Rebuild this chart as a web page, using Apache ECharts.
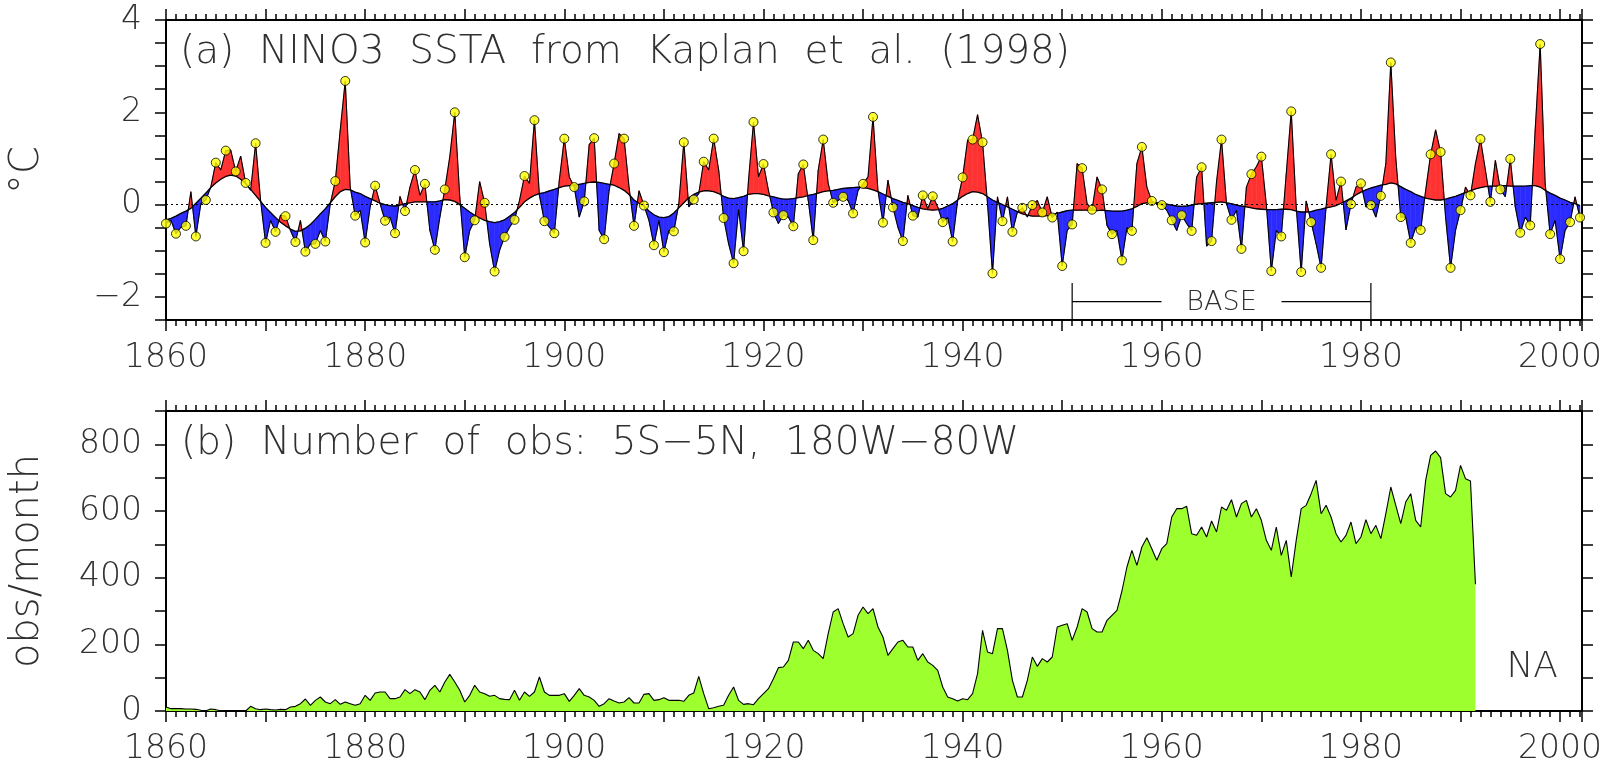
<!DOCTYPE html>
<html>
<head>
<meta charset="utf-8">
<title>NINO3 SSTA and number of obs</title>
<script src="https://cdn.jsdelivr.net/npm/echarts@6/dist/echarts.min.js"></script>
<style>
  html, body { margin: 0; padding: 0; background: #fff; }
  #main { width: 1610px; height: 773px; }
</style>
</head>
<body>
<div id="main"></div>
<script>
// ---- data (half-year steps) ----
// SSTA sample times: every half year from 1860.0 to 2002.0
var sstaStart = 1860, sstaStep = 0.5;
// NINO3 SST anomaly (degC), Jan / Jul of each year
var ssta = [
  -0.41,-0.34, -0.63,-0.49, -0.46,0.28, -0.69,0.02, 0.10,0.38,
  0.91,0.75, 1.17,1.18, 0.72,1.05, 0.47,0.31, 1.33,0.09,
  -0.83,-0.34, -0.59,-0.23, -0.25,-0.56, -0.81,-0.34, -1.02,-0.85,
  -0.85,-0.56, -0.80,0.02, 0.51,1.62, 2.68,0.38, -0.24,-0.12,
  -0.82,-0.05, 0.41,0.02, -0.35,-0.27, -0.62,0.18, -0.14,0.38,
  0.75,0.20, 0.45,-0.56, -0.98,-0.27, 0.33,1.04, 2.00,0.17,
  -1.14,-0.56, -0.34,0.50, 0.04,-0.85, -1.45,-0.99, -0.70,-0.49,
  -0.33,0.09, 0.62,0.46, 1.83,0.20, -0.36,-0.49, -0.62,0.53,
  1.43,0.60, 0.38,-0.27, 0.07,1.30, 1.44,-0.56, -0.75,0.31,
  0.89,1.54, 1.43,0.38, -0.46,0.30, -0.02,-0.34, -0.88,-0.34,
  -1.03,-0.56, -0.58,0.02, 1.35,-0.05, 0.11,0.24, 0.93,0.75,
  1.43,0.75, -0.29,-0.85, -1.27,-0.10, -1.01,0.53, 1.79,0.60,
  0.88,0.31, -0.17,-0.41, -0.23,-0.27, -0.47,0.67, 0.87,0.09,
  -0.77,0.75, 1.41,0.46, 0.04,0.09, 0.17,0.09, -0.19,0.31,
  0.45,0.60, 1.90,0.30, -0.39,0.53, -0.06,-0.49, -0.79,0.20,
  -0.24,-0.27, 0.20,-0.09, 0.18,-0.05, -0.38,-0.27, -0.80,0.09,
  0.59,1.40, 1.41,1.95, 1.35,0.02, -1.49,0.17, -0.36,0.17,
  -0.59,-0.16, -0.07,-0.27, -0.01,0.09, -0.17,0.17, -0.28,-0.16,
  -1.33,-0.56, -0.43,0.89, 0.79,0.02, -0.11,0.60, 0.33,-0.45,
  -0.64,-0.56, -1.21,-0.50, -0.57,0.89, 1.25,0.38, 0.08,0.02,
  -0.01,-0.12, -0.34,-0.56, -0.23,-0.41, -0.57,0.60, 0.81,-0.90,
  -0.79,0.50, 1.41,0.02, -0.33,-0.12, -0.96,0.38, 0.66,0.82,
  1.04,0.00, -1.44,-0.56, -0.69,0.67, 2.02,-0.05, -1.46,0.08,
  -0.38,-0.85, -1.37,-0.05, 1.09,0.09, 0.50,-0.55, 0.01,0.38,
  0.46,-0.05, -0.01,-0.27, 0.19,0.89, 3.08,1.00, -0.27,-0.27,
  -0.83,-0.49, -0.55,0.31, 1.09,1.62, 1.14,-0.27, -1.37,-0.56,
  -0.12,0.38, 0.20,0.89, 1.42,0.75, 0.06,0.96, 0.33,0.17,
  0.99,-0.05, -0.61,-0.27, -0.45,1.62, 3.48,0.46, -0.64,-0.34,
  -1.18,-0.56, -0.38,0.17, -0.28
];
// low-pass (decadal) part of the same series
var lowpass = [
  -0.33,-0.30, -0.25,-0.19, -0.14,-0.08, 0.03,0.14, 0.25,0.37,
  0.47,0.55, 0.61,0.64, 0.62,0.55, 0.45,0.33, 0.20,0.07,
  -0.06,-0.17, -0.28,-0.38, -0.46,-0.53, -0.58,-0.57, -0.51,-0.43,
  -0.32,-0.20, -0.09,0.04, 0.17,0.28, 0.33,0.32, 0.27,0.24,
  0.18,0.13, 0.08,0.03, 0.00,-0.02, -0.03,-0.01, 0.02,0.04,
  0.06,0.06, 0.06,0.06, 0.06,0.08, 0.11,0.10, 0.07,0.00,
  -0.08,-0.16, -0.23,-0.29, -0.34,-0.37, -0.39,-0.37, -0.33,-0.25,
  -0.17,-0.06, 0.06,0.14, 0.20,0.24, 0.26,0.30, 0.33,0.37,
  0.40,0.41, 0.42,0.44, 0.46,0.48, 0.49,0.48, 0.46,0.44,
  0.42,0.37, 0.31,0.22, 0.10,0.03, -0.03,-0.14, -0.22,-0.27,
  -0.28,-0.26, -0.18,-0.07, 0.04,0.15, 0.22,0.27, 0.30,0.30,
  0.28,0.24, 0.18,0.14, 0.13,0.15, 0.18,0.22, 0.24,0.24,
  0.22,0.19, 0.17,0.14, 0.12,0.12, 0.13,0.15, 0.17,0.20,
  0.22,0.25, 0.28,0.30, 0.31,0.33, 0.35,0.36, 0.37,0.38,
  0.37,0.35, 0.32,0.28, 0.23,0.18, 0.13,0.09, 0.05,0.02,
  -0.02,-0.06, -0.09,-0.11, -0.12,-0.11, -0.08,-0.03, 0.02,0.10,
  0.18,0.24, 0.28,0.27, 0.24,0.17, 0.10,0.05, 0.00,-0.05,
  -0.10,-0.15, -0.20,-0.23, -0.25,-0.25, -0.25,-0.24, -0.22,-0.19,
  -0.16,-0.13, -0.12,-0.12, -0.12,-0.12, -0.12,-0.13, -0.12,-0.13,
  -0.14,-0.14, -0.14,-0.12, -0.09,-0.04, 0.02,0.04, 0.04,0.04,
  0.03,0.01, -0.01,-0.03, -0.04,-0.03, -0.01,0.01, 0.02,0.03,
  0.04,0.05, 0.06,0.04, 0.02,-0.01, -0.03,-0.05, -0.07,-0.09,
  -0.10,-0.11, -0.11,-0.11, -0.10,-0.10, -0.11,-0.14, -0.16,-0.16,
  -0.15,-0.12, -0.10,-0.07, -0.05,-0.02, 0.03,0.08, 0.14,0.21,
  0.27,0.32, 0.36,0.39, 0.42,0.44, 0.47,0.45, 0.39,0.33,
  0.28,0.22, 0.18,0.14, 0.12,0.10, 0.10,0.12, 0.15,0.18,
  0.22,0.26, 0.30,0.34, 0.37,0.39, 0.40,0.40, 0.41,0.41,
  0.40,0.40, 0.40,0.40, 0.41,0.41, 0.38,0.31, 0.25,0.20,
  0.14,0.10, 0.05,0.02, -0.02
];

// number of observations per month, 5S-5N 180W-80W, half-year steps from 1860.0
var obsStart = 1860, obsStep = 0.5;
var obs = [
  12,7, 7,7, 6,6, 5,2, 1,6, 4,1, 0,0, 0,0, 0,14, 7,4,
  6,4, 3,5, 4,12, 14,22, 36,17, 32,42, 27,22, 34,20, 27,22, 17,22,
  47,32, 54,57, 57,37, 37,42, 64,52, 64,57, 34,62, 77,57, 87,110, 87,62,
  27,47, 77,57, 52,44, 47,37, 35,34, 62,32, 57,44, 57,102, 57,47, 47,47,
  52,29, 47,67, 47,42, 32,14, 22,37, 30,24, 27,40, 24,24, 50,52, 32,34,
  40,32, 32,32, 29,47, 54,104, 52,7, 10,14, 17,47, 72,32, 20,22, 19,37,
  52,67, 97,130, 132,152, 207,207, 187,212, 182,172, 157,232, 297,307, 262,222, 232,287,
  312,292, 307,252, 222,167, 187,207, 212,192, 192,152, 172,147, 137,122, 72,42, 37,30,
  37,34, 52,112, 242,177, 172,247, 247,182, 92,42, 42,92, 162,134, 157,147, 162,252,
  257,262, 212,252, 307,297, 247,237, 237,272, 287,302, 360,432, 482,437, 492,520, 487,452,
  487,502, 582,607, 607,614, 532,527, 552,522, 570,537, 612,602, 634,582, 622,632, 582,607,
  572,512, 482,552, 467,512, 402,512, 607,617, 652,692, 592,617, 582,532, 507,527, 567,502,
  522,574, 532,557, 517,592, 672,617, 562,627, 652,572, 552,692, 767,780, 760,652, 642,662,
  737,697, 690,380
];

var yearMin = 1860, yearMax = 2002.2;
var baseStart = 1951, baseEnd = 1981;
var sstaTicks = { min: -2.5, max: 4, step: 0.5, labelEvery: 2 };
var obsTicks = { min: 0, max: 900, step: 100, labelEvery: 200 };

var RED = '#ff3232', BLUE = '#2b2bff', GREEN = '#9dff2e', YELLOW = '#ffff00';
var FONT = '"DejaVu Sans", sans-serif';
var TXT = '#303030';

var tS = ssta.map(function (v, i) { return sstaStart + i * sstaStep; });
var tO = obs.map(function (v, i) { return obsStart + i * obsStep; });
var sstaPts = tS.map(function (t, i) { return [t, ssta[i]]; });
var lowPts = tS.map(function (t, i) { return [t, lowpass[i]]; });
var obsPts = tO.map(function (t, i) { return [t, obs[i]]; });
var dotPts = [];
for (var i = 0; i < tS.length; i++) {
  if (tS[i] % 1 === 0) dotPts.push([tS[i], ssta[i]]);
}

var chart = echarts.init(document.getElementById('main'), null, { renderer: 'canvas' });

function fmtYear(v) { return (v % 20 === 0) ? String(v) : ''; }
function fmtSsta(v) {
  if (v % sstaTicks.labelEvery !== 0) return '';
  return v < 0 ? '\u2212' + (-v) : String(v);
}
function fmtObs(v) { return (v % obsTicks.labelEvery === 0) ? String(v) : ''; }

var lineC = { color: '#000', width: 2 };
var tickC = { color: '#000', width: 1.5 };
var lblStyle = { color: TXT, fontFamily: FONT, fontWeight: 200, fontSize: 33 };

function xAxes(grid, major, withLabels) {
  var common = {
    type: 'value', gridIndex: grid, min: yearMin, max: yearMax,
    interval: major ? 10 : 1, splitLine: { show: false },
    axisLine: { show: major, lineStyle: lineC, onZero: false },
    axisTick: { show: true, inside: false, length: major ? 11 : 6, lineStyle: tickC }
  };
  var bottom = Object.assign({}, common, {
    position: 'bottom',
    axisLabel: withLabels ? Object.assign({ show: true, margin: 22, formatter: fmtYear }, lblStyle) : { show: false }
  });
  var top = Object.assign({}, common, { position: 'top', axisLabel: { show: false } });
  return [bottom, top];
}

function yAxes(grid, tk, fmt, name, visible) {
  if (!visible) {
    return [{ type: 'value', gridIndex: grid, min: tk.min, max: tk.max, show: false }];
  }
  var common = {
    type: 'value', gridIndex: grid, min: tk.min, max: tk.max, interval: tk.step,
    splitLine: { show: false },
    axisLine: { show: true, lineStyle: lineC, onZero: false },
    axisTick: { show: true, inside: false, length: 11, lineStyle: tickC }
  };
  var left = Object.assign({}, common, {
    position: 'left', name: name, nameLocation: 'middle', nameRotate: 90, nameGap: 118,
    nameTextStyle: { color: TXT, fontFamily: FONT, fontWeight: 200, fontSize: 40 },
    axisLabel: Object.assign({ show: true, margin: 24, formatter: fmt }, lblStyle)
  });
  var right = Object.assign({}, common, { position: 'right', axisLabel: { show: false } });
  return [left, right];
}

var gTop = { left: 166, top: 20, width: 1416, height: 300, outerBoundsMode: 'none' };
var gBot = { left: 166, top: 411, width: 1416, height: 300, outerBoundsMode: 'none' };

var option = {
  animation: false,
  backgroundColor: '#fff',
  grid: [gTop, gTop, gBot, gBot],
  xAxis: [].concat(xAxes(0, true, true), xAxes(1, false, false), xAxes(2, true, true), xAxes(3, false, false)),
  yAxis: [].concat(
    yAxes(0, sstaTicks, fmtSsta, '\u00B0C', true),
    yAxes(1, sstaTicks, null, '', false),
    yAxes(2, obsTicks, fmtObs, 'obs/month', true),
    yAxes(3, obsTicks, null, '', false)
  ),
  graphic: [
    { type: 'text', left: 180, top: 33, silent: true,
      style: { text: '(a)  NINO3  SSTA  from  Kaplan  et  al.  (1998)', fill: TXT,
        font: '200 39px ' + FONT } },
    { type: 'text', left: 181, top: 424, silent: true,
      style: { text: '(b)  Number  of  obs:  5S\u22125N,  180W\u221280W', fill: TXT,
        font: '200 39px ' + FONT } },
    { type: 'text', right: 52, top: 650, silent: true,
      style: { text: 'NA', fill: TXT, font: '200 36px ' + FONT } }
  ],
  series: [
    // dotted zero line (under the fills)
    {
      type: 'line', xAxisIndex: 0, yAxisIndex: 0, data: [], z: 1, silent: true,
      markLine: {
        silent: true, symbol: 'none', label: { show: false },
        lineStyle: { color: '#000', width: 1, type: [2, 3] },
        data: [{ yAxis: 0 }]
      }
    },
    // red / blue fill between the series and its low-pass part
    {
      type: 'custom', xAxisIndex: 0, yAxisIndex: 0, z: 2, silent: true, clip: true,
      data: tS.map(function (t, i) { return [t, ssta[i], lowpass[i]]; }),
      encode: { x: 0, y: [1, 2] },
      renderItem: function (params, api) {
        var i = params.dataIndex;
        if (i >= tS.length - 1) return null;
        var x0 = tS[i], x1 = tS[i + 1];
        var d0 = ssta[i] - lowpass[i], d1 = ssta[i + 1] - lowpass[i + 1];
        var P = function (x, y) { return api.coord([x, y]); };
        var polys = [];
        if (d0 * d1 >= 0) {
          polys.push({ pts: [P(x0, lowpass[i]), P(x0, ssta[i]), P(x1, ssta[i + 1]), P(x1, lowpass[i + 1])], pos: d0 + d1 >= 0 });
        } else {
          var f = d0 / (d0 - d1);
          var xc = x0 + f * (x1 - x0);
          var yc = lowpass[i] + f * (lowpass[i + 1] - lowpass[i]);
          polys.push({ pts: [P(x0, lowpass[i]), P(x0, ssta[i]), P(xc, yc)], pos: d0 > 0 });
          polys.push({ pts: [P(xc, yc), P(x1, ssta[i + 1]), P(x1, lowpass[i + 1])], pos: d1 > 0 });
        }
        return {
          type: 'group',
          children: polys.map(function (p) {
            var c = p.pos ? RED : BLUE;
            return { type: 'polygon', shape: { points: p.pts }, style: { fill: c, stroke: c, lineWidth: 0.6 } };
          })
        };
      }
    },
    {
      name: 'lowpass', type: 'line', xAxisIndex: 0, yAxisIndex: 0, z: 3, data: lowPts,
      showSymbol: false, symbol: 'none', silent: true,
      lineStyle: { color: '#000', width: 1.3 }
    },
    {
      name: 'SSTA', type: 'line', xAxisIndex: 0, yAxisIndex: 0, z: 3, data: sstaPts,
      showSymbol: false, symbol: 'none', silent: true,
      lineStyle: { color: '#000', width: 1.1 }
    },
    {
      name: 'annual', type: 'scatter', xAxisIndex: 0, yAxisIndex: 0, z: 4, data: dotPts,
      symbol: 'circle', symbolSize: 9, silent: true,
      itemStyle: { color: YELLOW, borderColor: '#000', borderWidth: 1 }
    },
    // BASE period bracket
    {
      type: 'custom', xAxisIndex: 0, yAxisIndex: 0, z: 5, silent: true, clip: false,
      data: [[baseStart, baseEnd]],
      encode: { x: [0, 1] },
      renderItem: function (params, api) {
        var a = api.coord([baseStart, -1.7]), a0 = api.coord([baseStart, -2.5]);
        var b = api.coord([baseEnd, -1.7]), b0 = api.coord([baseEnd, -2.5]);
        var yh = api.coord([baseStart, -2.1])[1];
        var xm = (a[0] + b[0]) / 2;
        var ls = { stroke: '#000', lineWidth: 1.2 };
        return {
          type: 'group',
          children: [
            { type: 'line', shape: { x1: a[0], y1: a[1], x2: a0[0], y2: a0[1] }, style: ls },
            { type: 'line', shape: { x1: b[0], y1: b[1], x2: b0[0], y2: b0[1] }, style: ls },
            { type: 'line', shape: { x1: a[0], y1: yh, x2: xm - 60, y2: yh }, style: ls },
            { type: 'line', shape: { x1: xm + 60, y1: yh, x2: b[0], y2: yh }, style: ls },
            { type: 'text', x: xm, y: yh + 1, style: { text: 'BASE', fill: TXT, font: '200 27px ' + FONT, align: 'center', verticalAlign: 'middle' } }
          ]
        };
      }
    },
    // panel (b): number of observations
    {
      name: 'obs', type: 'line', xAxisIndex: 4, yAxisIndex: 3, data: obsPts,
      showSymbol: false, symbol: 'none', silent: true,
      lineStyle: { color: '#000', width: 1.1 },
      areaStyle: { color: GREEN, opacity: 1 }
    }
  ]
};

chart.setOption(option);
window.addEventListener('resize', function () { chart.resize(); });
</script>
</body>
</html>
